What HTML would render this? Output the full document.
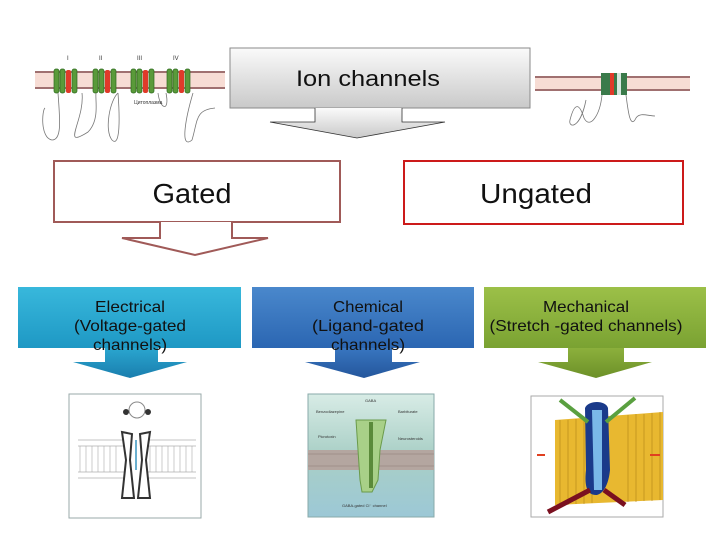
<!DOCTYPE html>
<html><head><meta charset="utf-8"><style>
body{margin:0;background:#fff;}
svg{display:block}
text{font-family:"Liberation Sans",Arial,sans-serif;}
</style></head><body>
<svg width="720" height="540" viewBox="0 0 720 540" xmlns="http://www.w3.org/2000/svg">
<defs>
<linearGradient id="gray" x1="0" y1="0" x2="0" y2="1"><stop offset="0" stop-color="#fafafa"/><stop offset="1" stop-color="#c9c9c9"/></linearGradient>
<linearGradient id="cy" x1="0" y1="0" x2="0" y2="1"><stop offset="0" stop-color="#38b8dc"/><stop offset="1" stop-color="#1e98c4"/></linearGradient>
<linearGradient id="bl" x1="0" y1="0" x2="0" y2="1"><stop offset="0" stop-color="#4a88cc"/><stop offset="1" stop-color="#2b66b2"/></linearGradient>
<linearGradient id="gr" x1="0" y1="0" x2="0" y2="1"><stop offset="0" stop-color="#9cc048"/><stop offset="1" stop-color="#7aa232"/></linearGradient>
<linearGradient id="cya" x1="0" y1="0" x2="0" y2="1"><stop offset="0" stop-color="#2aa6cf"/><stop offset="1" stop-color="#1a7eae"/></linearGradient>
<linearGradient id="bla" x1="0" y1="0" x2="0" y2="1"><stop offset="0" stop-color="#3876c0"/><stop offset="1" stop-color="#24569c"/></linearGradient>
<linearGradient id="gra" x1="0" y1="0" x2="0" y2="1"><stop offset="0" stop-color="#8cb03c"/><stop offset="1" stop-color="#6c9028"/></linearGradient>
<linearGradient id="chem" x1="0" y1="0" x2="0" y2="1"><stop offset="0" stop-color="#d8ece6"/><stop offset="0.5" stop-color="#a9cfc6"/><stop offset="1" stop-color="#9cc8d6"/></linearGradient>
</defs>

<!-- top left membrane image -->
<g>
<rect x="35" y="72" width="190" height="16" fill="#f7dcd4"/>
<line x1="35" y1="72" x2="225" y2="72" stroke="#a07070" stroke-width="2"/>
<line x1="35" y1="88" x2="225" y2="88" stroke="#a07070" stroke-width="2"/>
<g fill="#5a9a3a" stroke="#2e6a20" stroke-width="0.7">
<rect x="54" y="69" width="5" height="24" rx="2"/><rect x="60" y="69" width="5" height="24" rx="2"/><rect x="72" y="69" width="5" height="24" rx="2"/>
<rect x="93" y="69" width="5" height="24" rx="2"/><rect x="99" y="69" width="5" height="24" rx="2"/><rect x="111" y="69" width="5" height="24" rx="2"/>
<rect x="131" y="69" width="5" height="24" rx="2"/><rect x="137" y="69" width="5" height="24" rx="2"/><rect x="149" y="69" width="5" height="24" rx="2"/>
<rect x="167" y="69" width="5" height="24" rx="2"/><rect x="173" y="69" width="5" height="24" rx="2"/><rect x="185" y="69" width="5" height="24" rx="2"/>
</g>
<g fill="#e03a2a"><rect x="66" y="70" width="5" height="23" rx="2"/><rect x="105" y="70" width="5" height="23" rx="2"/><rect x="143" y="70" width="5" height="23" rx="2"/><rect x="179" y="70" width="5" height="23" rx="2"/></g>
<g fill="none" stroke="#777" stroke-width="0.8">
<path d="M58 93 C60 120 62 140 52 140 C40 138 42 110 45 108"/>
<path d="M82 93 C85 120 60 150 88 132 C100 120 95 100 96 93"/>
<path d="M118 93 C120 120 120 148 112 140 C104 130 110 100 118 93"/>
<path d="M158 93 C160 110 170 112 166 93"/>
<path d="M193 93 C185 120 180 150 192 140 C198 120 195 110 215 108"/>
</g>
<g font-size="6" fill="#333"><text x="67" y="60">I</text><text x="99" y="60">II</text><text x="137" y="60">III</text><text x="173" y="60">IV</text><text x="134" y="104" font-size="5">Цитоплазма</text></g>
</g>

<!-- top right membrane image -->
<g>
<rect x="535" y="77" width="155" height="14" fill="#f7dcd4"/>
<line x1="535" y1="77" x2="690" y2="77" stroke="#a07070" stroke-width="2"/>
<line x1="535" y1="90" x2="690" y2="90" stroke="#a07070" stroke-width="2"/>
<rect x="601" y="73" width="26" height="22" fill="#3a7a4a"/>
<rect x="610" y="73" width="4" height="22" fill="#e03a2a"/>
<rect x="617" y="73" width="4" height="22" fill="#d8e8e0"/>
<g fill="none" stroke="#777" stroke-width="0.8">
<path d="M602 95 C600 115 590 130 584 118 C580 105 575 100 570 120 C568 128 580 130 586 100"/>
<path d="M626 95 C628 110 630 130 636 118 C640 112 648 116 655 116"/>
</g>
</g>

<!-- Ion channels box + arrow -->
<rect x="230" y="48" width="300" height="60" fill="url(#gray)" stroke="#8a8a8a" stroke-width="1"/>
<path d="M315 108 L315 122 L270 122 L357 138 L445 122 L402 122 L402 108" fill="url(#gray)" stroke="#333" stroke-width="0.8"/>
<text x="368" y="86" font-size="22" text-anchor="middle" fill="#111" textLength="144" lengthAdjust="spacingAndGlyphs">Ion channels</text>

<!-- Gated -->
<rect x="54" y="161" width="286" height="61" fill="#fff" stroke="#a05a58" stroke-width="2"/>
<path d="M160 222 L160 238 L122 238 L195 255 L268 238 L232 238 L232 222" fill="#fff" stroke="#a05a58" stroke-width="2"/>
<text x="192" y="203" font-size="28" text-anchor="middle" fill="#111" textLength="79" lengthAdjust="spacingAndGlyphs">Gated</text>

<!-- Ungated -->
<rect x="404" y="161" width="279" height="63" fill="#fff" stroke="#cc1a1a" stroke-width="2"/>
<text x="536" y="203" font-size="28" text-anchor="middle" fill="#111" textLength="112" lengthAdjust="spacingAndGlyphs">Ungated</text>

<!-- colored boxes -->
<rect x="18" y="287" width="223" height="61" fill="url(#cy)"/>
<path d="M105 348 L105 362 L73 362 L130 378 L187 362 L158 362 L158 348Z" fill="url(#cya)"/>
<rect x="252" y="287" width="222" height="61" fill="url(#bl)"/>
<path d="M335 348 L335 362 L305 362 L364 378 L420 362 L392 362 L392 348Z" fill="url(#bla)"/>
<rect x="484" y="287" width="222" height="61" fill="url(#gr)"/>
<path d="M568 348 L568 362 L538 362 L596 378 L652 362 L624 362 L624 348Z" fill="url(#gra)"/>
<g font-size="16" text-anchor="middle" fill="#111">
<text x="130" y="312" textLength="70" lengthAdjust="spacingAndGlyphs">Electrical</text><text x="130" y="331" textLength="112" lengthAdjust="spacingAndGlyphs">(Voltage-gated</text><text x="130" y="350" textLength="74" lengthAdjust="spacingAndGlyphs">channels)</text>
<text x="368" y="312" textLength="70" lengthAdjust="spacingAndGlyphs">Chemical</text><text x="368" y="331" textLength="112" lengthAdjust="spacingAndGlyphs">(Ligand-gated</text><text x="368" y="350" textLength="74" lengthAdjust="spacingAndGlyphs">channels)</text>
<text x="586" y="312" textLength="86" lengthAdjust="spacingAndGlyphs">Mechanical</text><text x="586" y="331" textLength="193" lengthAdjust="spacingAndGlyphs">(Stretch -gated channels)</text>
</g>

<!-- electrical image -->
<rect x="69" y="394" width="132" height="124" fill="#fff" stroke="#9aa" stroke-width="1"/>
<g fill="none" stroke="#888" stroke-width="0.6">
<path d="M78 440 H125 M78 446 H125 M78 472 H125 M78 478 H125 M145 440 H196 M145 446 H196 M145 472 H196 M145 478 H196"/>
<g stroke="#aaa"><path d="M80 446 V472 M86 446 V472 M92 446 V472 M98 446 V472 M104 446 V472 M110 446 V472 M116 446 V472 M150 446 V472 M156 446 V472 M162 446 V472 M168 446 V472 M174 446 V472 M180 446 V472 M186 446 V472 M192 446 V472"/></g>
</g>
<path d="M122 432 L132 434 L130 460 L134 498 L122 498 L126 460Z" fill="#fff" stroke="#333" stroke-width="2"/>
<path d="M140 434 L150 432 L146 460 L150 498 L138 498 L142 460Z" fill="#fff" stroke="#333" stroke-width="2"/>
<path d="M136 440 V470" stroke="#6ab0d0" stroke-width="2"/>
<circle cx="137" cy="410" r="8" fill="none" stroke="#888"/>
<circle cx="126" cy="412" r="3" fill="#333"/><circle cx="148" cy="412" r="3" fill="#333"/>

<!-- chemical image -->
<rect x="308" y="394" width="126" height="123" fill="url(#chem)" stroke="#8aa" stroke-width="1"/>
<rect x="308" y="450" width="126" height="20" fill="#b4a6a0"/>
<g stroke="#8a7a74" stroke-width="0.6"><path d="M308 454 H434 M308 466 H434"/></g>
<path d="M356 420 L386 420 L380 450 L378 480 L372 492 L362 492 L360 480 L358 450Z" fill="#a8d088" stroke="#6a9a4a"/>
<rect x="369" y="422" width="4" height="66" fill="#5a8a3a"/>
<g font-size="4" fill="#333"><text x="365" y="402">GABA</text><text x="316" y="413">Benzodiazepine</text><text x="398" y="413">Barbiturate</text><text x="318" y="438">Picrotoxin</text><text x="398" y="440">Neurosteroids</text><text x="342" y="507">GABA-gated Cl⁻ channel</text></g>

<!-- mechanical image -->
<rect x="531" y="396" width="132" height="121" fill="#fff" stroke="#aaa" stroke-width="1"/>
<path d="M555 420 L663 412 L663 500 L555 505Z" fill="#e8b830"/>
<g stroke="#b08418" stroke-width="0.6"><path d="M560 420 V505 M568 420 V505 M576 419 V504 M584 418 V504 M592 418 V503 M628 415 V502 M636 414 V502 M644 414 V501 M652 413 V501 M660 412 V500"/></g>
<path d="M585 408 C588 400 606 400 608 408 L610 470 C608 490 600 495 596 495 C588 495 584 488 586 470Z" fill="#1a3a8a"/>
<path d="M592 410 L602 410 L602 490 L594 490Z" fill="#7ab8e8"/>
<path d="M560 400 L588 422 M635 398 L606 422" stroke="#5aa040" stroke-width="4"/>
<path d="M590 490 L548 512 M604 490 L625 505" stroke="#7a1020" stroke-width="5"/>
<path d="M545 455 L537 455" stroke="#e04020" stroke-width="2"/><path d="M650 455 L660 455" stroke="#e04020" stroke-width="2"/>
</svg>
</body></html>
